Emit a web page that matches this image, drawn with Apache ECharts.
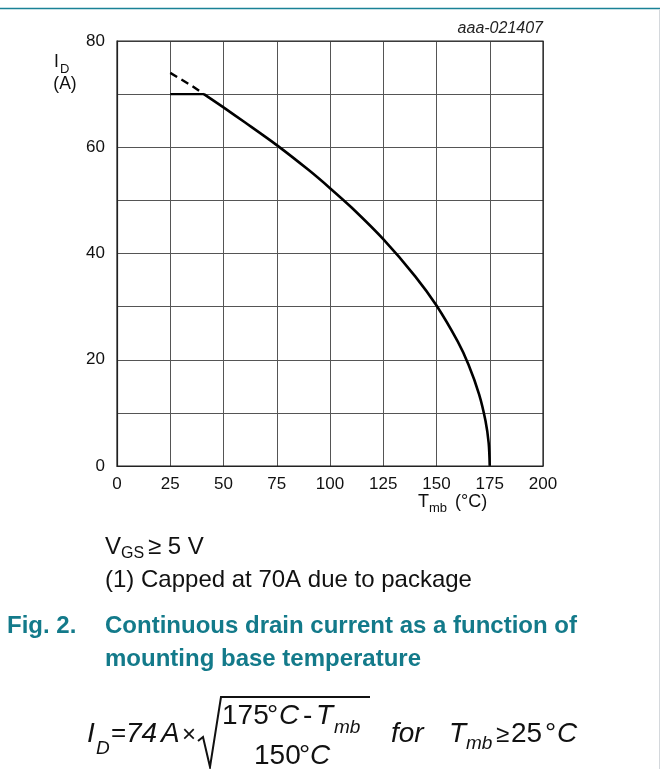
<!DOCTYPE html>
<html><head><meta charset="utf-8">
<script src="https://cdn.jsdelivr.net/npm/echarts@6/dist/echarts.min.js"></script>
<style>html,body{margin:0;padding:0;background:#fff}#c{width:660px;height:769px}</style>
</head><body><div id="c"></div>
<script>
// Data
const xTicks = [0, 25, 50, 75, 100, 125, 150, 175, 200];
const yTicks = [0, 20, 40, 60, 80];
// derating curve (solid)
const curveT = [40.8, 50, 60, 75, 90, 100, 110, 125, 140, 150, 160, 165, 170, 173, 174.5, 175];
const curveI = [70.0, 67.5, 64.7, 60.4, 55.7, 52.3, 48.7, 42.7, 35.7, 30.2, 23.4, 19.1, 13.5, 8.5, 4.3, 0];
// package cap (solid)
const capT = [25, 40.8];
const capI = [70, 70];
// uncapped extension (dashed)
const dashT = [25, 30, 35, 40.8];
const dashI = [74.0, 72.8, 71.6, 70.0];

const teal = '#137a8a';
const font = 'Liberation Sans, Arial, sans-serif';
const pair = (a, b) => a.map((v, i) => [v, b[i]]);
const T = (x, y, text, size, opts) => {
  opts = opts || {};
  return {type: 'text', x: x, y: y, style: {
    text: text, fill: opts.fill || '#111',
    font: (opts.italic ? 'italic ' : '') + (opts.bold ? 'bold ' : '') + size + 'px ' + font,
    align: opts.align || 'left', verticalAlign: 'middle'}};
};

const chart = echarts.init(document.getElementById('c'), null, {renderer: 'canvas'});
chart.setOption({
  backgroundColor: '#ffffff',
  animation: false,
  grid: {left: 117, top: 41, width: 426, height: 425, containLabel: false},
  xAxis: {
    type: 'value', min: 0, max: 200, interval: 25,
    axisLine: {show: true, lineStyle: {color: '#222', width: 1.2}},
    axisTick: {show: false},
    axisLabel: {color: '#111', fontSize: 17, fontFamily: font, margin: 10,
      formatter: v => xTicks.includes(v) ? String(v) : ''},
    splitLine: {show: true, lineStyle: {color: '#555', width: 1}}
  },
  yAxis: {
    type: 'value', min: 0, max: 80, interval: 10,
    axisLine: {show: true, lineStyle: {color: '#222', width: 1.2}},
    axisTick: {show: false},
    axisLabel: {color: '#111', fontSize: 17, fontFamily: font, margin: 12,
      formatter: v => yTicks.includes(v) ? String(v) : ''},
    splitLine: {show: true, lineStyle: {color: '#555', width: 1}}
  },
  series: [
    {type: 'line', data: pair(curveT, curveI), smooth: 0.3, showSymbol: false,
     lineStyle: {color: '#000', width: 2.6}, z: 5},
    {type: 'line', data: pair(capT, capI), showSymbol: false,
     lineStyle: {color: '#000', width: 2.4}, z: 5},
    {type: 'line', data: pair(dashT, dashI), showSymbol: false,
     lineStyle: {color: '#000', width: 2.4, type: [8, 5]}, z: 5}
  ],
  graphic: [
    {type: 'line', shape: {x1: 0, y1: 8.5, x2: 660, y2: 8.5}, style: {stroke: '#1a8296', lineWidth: 1.5}},
    {type: 'line', shape: {x1: 659.5, y1: 9, x2: 659.5, y2: 769}, style: {stroke: '#d4d8dc', lineWidth: 1}},
    {type: 'rect', shape: {x: 117, y: 41, width: 426, height: 425}, style: {fill: 'none', stroke: '#222', lineWidth: 1.2}, z: 10},
    T(543, 29, 'aaa-021407', 16, {italic: true, align: 'right', fill: '#222'}),
    // y axis title
    T(54, 62, 'I', 17.5),
    T(60, 69, 'D', 13),
    T(65, 84, '(A)', 17.5, {align: 'center'}),
    // x axis title
    T(418, 502, 'T', 18),
    T(429, 508, 'mb', 13),
    T(455, 502, '(°C)', 18),
    // notes
    T(105, 547, 'V', 24),
    T(121, 554, 'GS', 16),
    T(148, 547, '≥ 5 V', 24),
    T(105, 580, '(1) Capped at 70A due to package', 24),
    T(7, 626, 'Fig. 2.', 24, {bold: true, fill: teal}),
    T(105, 626, 'Continuous drain current as a function of', 24, {bold: true, fill: teal}),
    T(105, 659, 'mounting base temperature', 24, {bold: true, fill: teal}),
    // formula
    T(87, 734, 'I', 28, {italic: true}),
    T(96, 749, 'D', 19, {italic: true}),
    T(111, 734, '=', 26),
    T(126, 734, '74', 28, {italic: true}),
    T(161, 734, 'A', 28, {italic: true}),
    T(182, 735, '×', 24),
    {type: 'polyline', shape: {points: [[198, 741], [203, 737], [210, 767], [221, 697], [370, 697]]}, style: {stroke: '#111', lineWidth: 2, fill: 'none'}},
    T(222, 716, '175', 28),
    T(267, 716, '°', 28),
    T(279, 716, 'C', 28, {italic: true}),
    T(303, 716, '-', 28),
    T(316, 716, 'T', 28, {italic: true}),
    T(334, 728, 'mb', 19, {italic: true}),
    T(254, 756, '150', 28),
    T(299, 756, '°', 28),
    T(310, 756, 'C', 28, {italic: true}),
    T(391, 734, 'for', 28, {italic: true}),
    T(449, 734, 'T', 28, {italic: true}),
    T(466, 744, 'mb', 19, {italic: true}),
    T(496, 735, '≥', 24),
    T(511, 734, '25', 28),
    T(545, 734, '°', 28),
    T(557, 734, 'C', 28, {italic: true})
  ]
});
</script></body></html>
